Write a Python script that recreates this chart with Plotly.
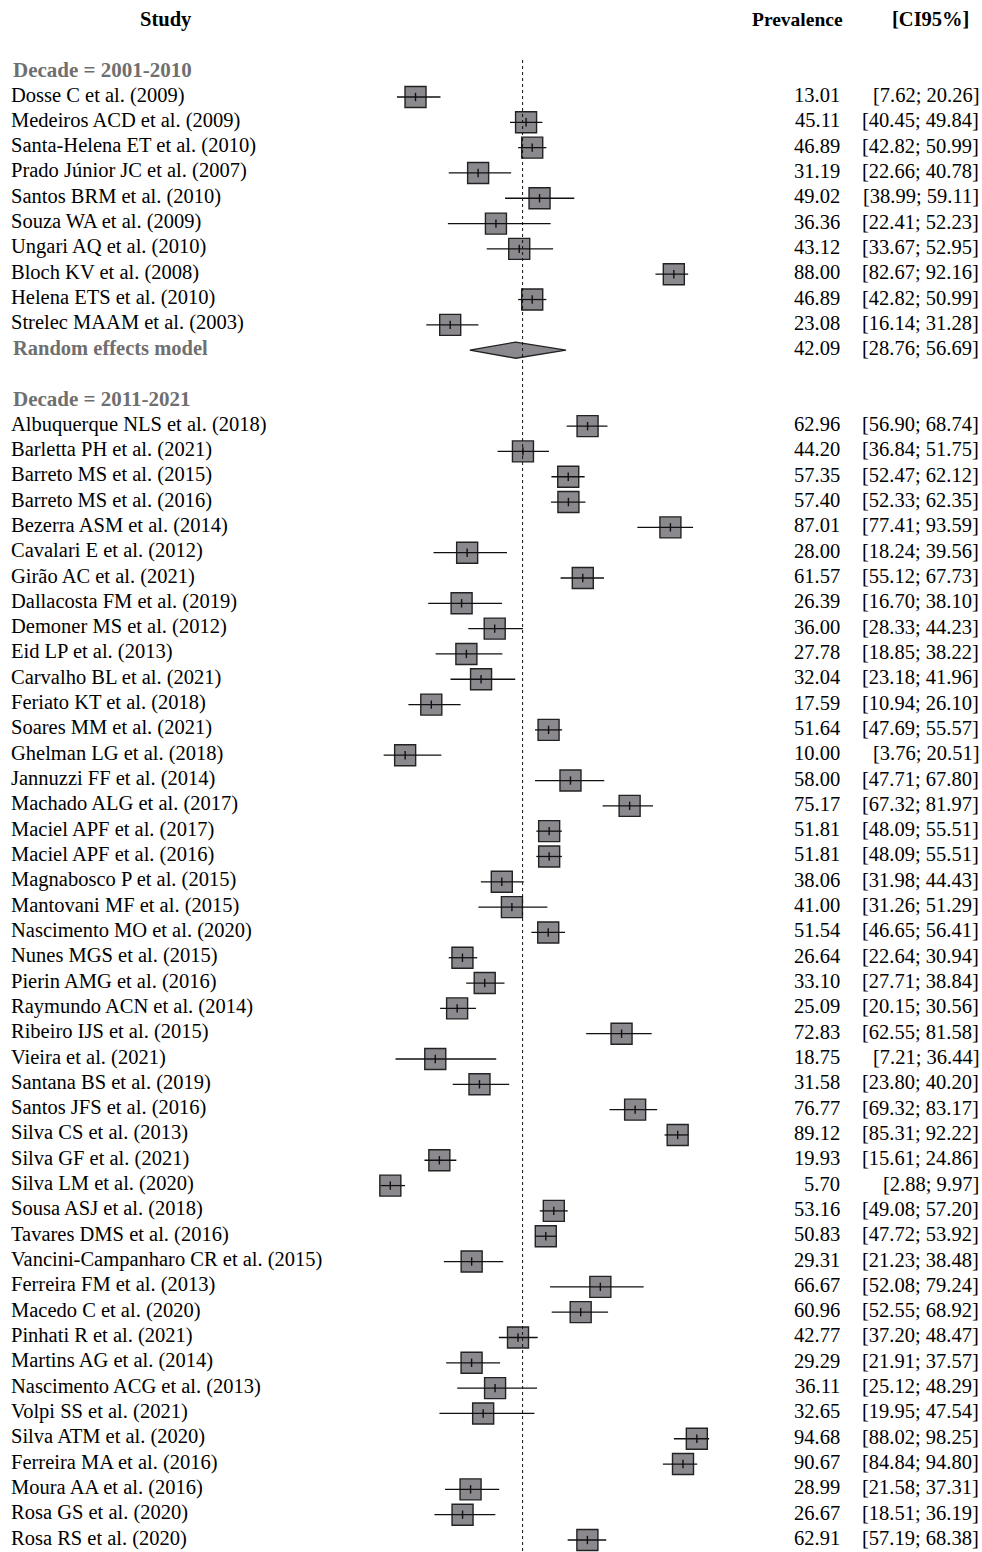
import plotly.graph_objects as go

# ---- data -------------------------------------------------------------
group1_label = "Decade = 2001-2010"
group1_studies = [
    "Dosse C et al. (2009)", "Medeiros ACD et al. (2009)", "Santa-Helena ET et al. (2010)",
    "Prado Júnior JC et al. (2007)", "Santos BRM et al. (2010)", "Souza WA et al. (2009)",
    "Ungari AQ et al. (2010)", "Bloch KV et al. (2008)", "Helena ETS et al. (2010)",
    "Strelec MAAM et al. (2003)",
]
group1_est = [13.01, 45.11, 46.89, 31.19, 49.02, 36.36, 43.12, 88.00, 46.89, 23.08]
group1_lo = [7.62, 40.45, 42.82, 22.66, 38.99, 22.41, 33.67, 82.67, 42.82, 16.14]
group1_hi = [20.26, 49.84, 50.99, 40.78, 59.11, 52.23, 52.95, 92.16, 50.99, 31.28]
group1_pooled = (42.09, 28.76, 56.69)

group2_label = "Decade = 2011-2021"
group2_studies = [
    "Albuquerque NLS et al. (2018)", "Barletta PH et al. (2021)", "Barreto MS et al. (2015)",
    "Barreto MS et al. (2016)", "Bezerra ASM et al. (2014)", "Cavalari E et al. (2012)",
    "Girão AC et al. (2021)", "Dallacosta FM et al. (2019)", "Demoner MS et al. (2012)",
    "Eid LP et al. (2013)", "Carvalho BL et al. (2021)", "Feriato KT et al. (2018)",
    "Soares MM et al. (2021)", "Ghelman LG et al. (2018)", "Jannuzzi FF et al. (2014)",
    "Machado ALG et al. (2017)", "Maciel APF et al. (2017)", "Maciel APF et al. (2016)",
    "Magnabosco P et al. (2015)", "Mantovani MF et al. (2015)", "Nascimento MO et al. (2020)",
    "Nunes MGS et al. (2015)", "Pierin AMG et al. (2016)", "Raymundo ACN et al. (2014)",
    "Ribeiro IJS et al. (2015)", "Vieira et al. (2021)", "Santana BS et al. (2019)",
    "Santos JFS et al. (2016)", "Silva CS et al. (2013)", "Silva GF et al. (2021)",
    "Silva LM et al. (2020)", "Sousa ASJ et al. (2018)", "Tavares DMS et al. (2016)",
    "Vancini-Campanharo CR et al. (2015)", "Ferreira FM et al. (2013)", "Macedo C et al. (2020)",
    "Pinhati R et al. (2021)", "Martins AG et al. (2014)", "Nascimento ACG et al. (2013)",
    "Volpi SS et al. (2021)", "Silva ATM et al. (2020)", "Ferreira MA et al. (2016)",
    "Moura AA et al. (2016)", "Rosa GS et al. (2020)", "Rosa RS et al. (2020)",
]
group2_est = [62.96, 44.20, 57.35, 57.40, 87.01, 28.00, 61.57, 26.39, 36.00, 27.78, 32.04, 17.59,
              51.64, 10.00, 58.00, 75.17, 51.81, 51.81, 38.06, 41.00, 51.54, 26.64, 33.10, 25.09,
              72.83, 18.75, 31.58, 76.77, 89.12, 19.93, 5.70, 53.16, 50.83, 29.31, 66.67, 60.96,
              42.77, 29.29, 36.11, 32.65, 94.68, 90.67, 28.99, 26.67, 62.91]
group2_lo = [56.90, 36.84, 52.47, 52.33, 77.41, 18.24, 55.12, 16.70, 28.33, 18.85, 23.18, 10.94,
             47.69, 3.76, 47.71, 67.32, 48.09, 48.09, 31.98, 31.26, 46.65, 22.64, 27.71, 20.15,
             62.55, 7.21, 23.80, 69.32, 85.31, 15.61, 2.88, 49.08, 47.72, 21.23, 52.08, 52.55,
             37.20, 21.91, 25.12, 19.95, 88.02, 84.84, 21.58, 18.51, 57.19]
group2_hi = [68.74, 51.75, 62.12, 62.35, 93.59, 39.56, 67.73, 38.10, 44.23, 38.22, 41.96, 26.10,
             55.57, 20.51, 67.80, 81.97, 55.51, 55.51, 44.43, 51.29, 56.41, 30.94, 38.84, 30.56,
             81.58, 36.44, 40.20, 83.17, 92.22, 24.86, 9.97, 57.20, 53.92, 38.48, 79.24, 68.92,
             48.47, 37.57, 48.29, 47.54, 98.25, 94.80, 37.31, 36.19, 68.38]

overall_estimate = 44.1
headers = ["Study", "Prevalence", "[CI95%]"]

# ---- style --------------------------------------------------------------
W, H = 982, 1552
FONT = "Liberation Serif"
FS = 20.5
BOX_FILL = "#8b898e"
BOX_EDGE = "#222222"
GREY_TXT = "#6f6f6f"

# row layout (row index grows downwards)
r = 0
g1_label_row = r; r += 1
g1_rows = list(range(r, r + len(group1_studies))); r += len(group1_studies)
g1_pool_row = r; r += 2
g2_label_row = r; r += 1
g2_rows = list(range(r, r + len(group2_studies))); r += len(group2_studies)

row_px = 25.316
first_px = 97.0 - row_px  # pixel of row 0
y_top = -first_px / row_px
y_bot = (H - first_px) / row_px

# x mapping: value 0 at ~370.7 px, 3.4445 px per unit
x0_px, x_scale = 370.7, 3.4445
x_left = -x0_px / x_scale
x_right = (W - x0_px) / x_scale

est = group1_est + group2_est
lo = group1_lo + group2_lo
hi = group1_hi + group2_hi
yrows = g1_rows + g2_rows

fig = go.Figure()

# squares
fig.add_trace(go.Scatter(
    x=est, y=yrows, mode="markers",
    marker=dict(symbol="square", size=21, color=BOX_FILL, line=dict(color=BOX_EDGE, width=1.4)),
    hoverinfo="skip", showlegend=False))

# confidence intervals
ci_x, ci_y = [], []
for l, h, yy in zip(lo, hi, yrows):
    ci_x += [l, h, None]
    ci_y += [yy, yy, None]
fig.add_trace(go.Scatter(x=ci_x, y=ci_y, mode="lines",
                         line=dict(color="#111111", width=1.3),
                         hoverinfo="skip", showlegend=False))

# point ticks
fig.add_trace(go.Scatter(
    x=est, y=yrows, mode="markers",
    marker=dict(symbol="line-ns-open", size=6, color="#111111",
                line=dict(color="#111111", width=1.4)),
    hoverinfo="skip", showlegend=False))

# pooled diamond
pe, pl, ph = group1_pooled
dh = 0.32
fig.add_trace(go.Scatter(
    x=[pl, pe, ph, pe, pl], y=[g1_pool_row, g1_pool_row - dh, g1_pool_row, g1_pool_row + dh, g1_pool_row],
    mode="lines", fill="toself", fillcolor=BOX_FILL,
    line=dict(color=BOX_EDGE, width=1.3), hoverinfo="skip", showlegend=False))

# reference line
dash_top = (60 - first_px) / row_px
fig.add_shape(type="line", x0=overall_estimate, x1=overall_estimate, y0=dash_top, y1=y_bot,
              xref="x", yref="y", line=dict(color="#111111", width=1, dash="dot"))

# ---- text columns -----------------------------------------------------
def px(v):
    return v / W

ann = []
def text(xp, y, s, anchor="left", bold=False, color="black", size=FS):
    ann.append(dict(x=px(xp), y=y, xref="paper", yref="y", text=f"<b>{s}</b>" if bold else s,
                    showarrow=False, xanchor=anchor, yanchor="middle", yshift=2,
                    font=dict(family=FONT, size=size, color=color)))

head_row = g1_label_row - 2
text(166, head_row, headers[0], "center", bold=True)
text(845, head_row, headers[1], "right", bold=True, size=19.5)
text(971, head_row, headers[2], "right", bold=True)

text(11, g1_label_row, group1_label, bold=True, color=GREY_TXT, size=21)
text(11, g2_label_row, group2_label, bold=True, color=GREY_TXT, size=21)
text(11, g1_pool_row, "Random effects model", bold=True, color=GREY_TXT)
text(842, g1_pool_row, f"{pe:.2f}", "right")
text(981, g1_pool_row, f"[{pl:.2f}; {ph:.2f}]", "right")

for name, e, l, h, yy in zip(group1_studies + group2_studies, est, lo, hi, yrows):
    text(9, yy, name)
    text(842, yy, f"{e:.2f}", "right")
    text(981, yy, f"[{l:.2f}; {h:.2f}]", "right")

fig.update_layout(
    width=W, height=H, margin=dict(l=0, r=0, t=0, b=0),
    paper_bgcolor="white", plot_bgcolor="white",
    xaxis=dict(range=[x_left, x_right], visible=False, fixedrange=True),
    yaxis=dict(range=[y_bot, y_top], visible=False, fixedrange=True),
    annotations=ann, showlegend=False,
)

fig.write_html("out.html", config={"displayModeBar": False})
